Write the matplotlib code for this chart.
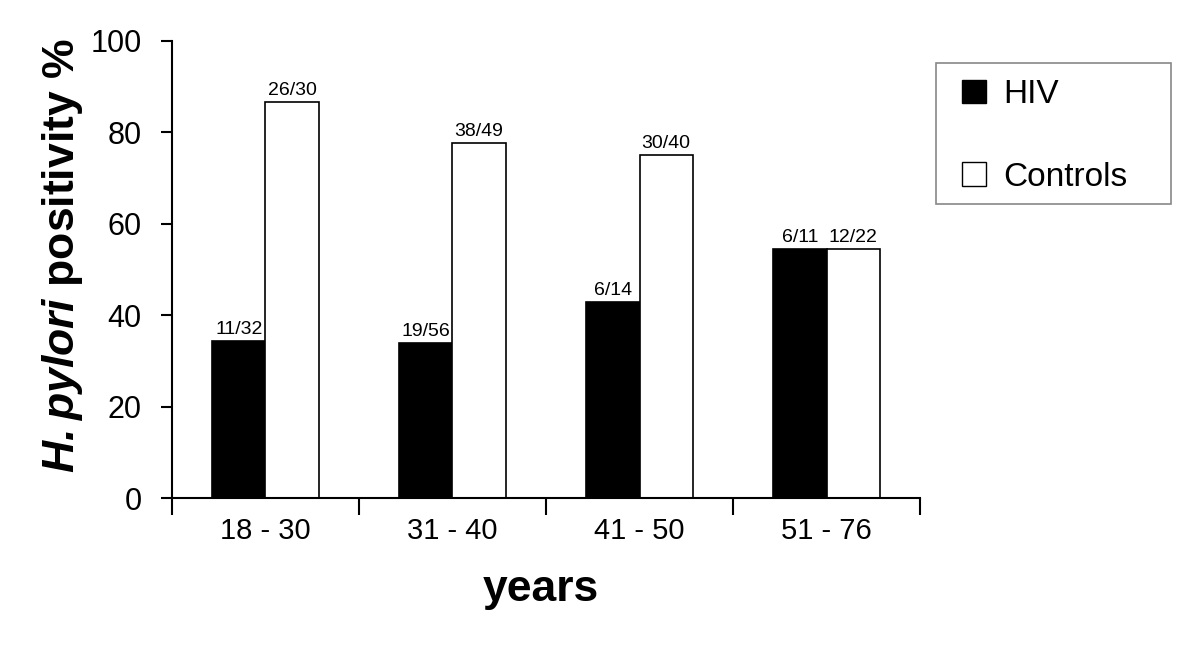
import matplotlib.pyplot as plt
from matplotlib.patches import Patch, Rectangle
import numpy as np

plt.rcParams['font.family'] = ['Liberation Sans', 'DejaVu Sans']
plt.rcParams['mathtext.fontset'] = 'custom'
plt.rcParams['mathtext.bfit'] = 'Liberation Sans:bold:italic'

# 数据
groups = ['18 - 30', '31 - 40', '41 - 50', '51 - 76']
hiv = [34.4, 33.9, 42.9, 54.5]
controls = [86.7, 77.6, 75.0, 54.5]
hiv_labels = ['11/32', '19/56', '6/14', '6/11']
ctrl_labels = ['26/30', '38/49', '30/40', '12/22']

fig = plt.figure(figsize=(12, 6.51), dpi=100)
ax = fig.add_axes([0.1433, 0.235, 0.6234, 0.7025])

x = np.arange(len(groups))
w = 0.285
b1 = ax.bar(x - w / 2, hiv, w, color='black', edgecolor='black', linewidth=1.2)
b2 = ax.bar(x + w / 2, controls, w, color='white', edgecolor='black', linewidth=1.2)

for rect, s in zip(b1, hiv_labels):
    ax.text(rect.get_x() + rect.get_width() / 2, rect.get_height() + 0.6, s,
            ha='center', va='bottom', fontsize=14)
for rect, s in zip(b2, ctrl_labels):
    ax.text(rect.get_x() + rect.get_width() / 2, rect.get_height() + 0.6, s,
            ha='center', va='bottom', fontsize=14)

ax.set_xlim(-0.5, 3.5)
ax.set_ylim(0, 100)
ax.spines['top'].set_visible(False)
ax.spines['right'].set_visible(False)
ax.spines['left'].set_linewidth(1.5)
ax.spines['bottom'].set_linewidth(1.5)

ax.set_yticks([0, 20, 40, 60, 80, 100])
ax.tick_params(axis='y', direction='out', length=8, width=1.5, labelsize=22, pad=14)

# 组间刻度
ax.set_xticks(np.arange(-0.5, 4, 1))
ax.set_xticklabels([])
ax.tick_params(axis='x', which='major', direction='out', length=12, width=1.5)
ax.set_xticks(x, minor=True)
ax.set_xticklabels(groups, minor=True)
ax.tick_params(axis='x', which='minor', length=0, labelsize=21, pad=14)

ax.set_xlabel('years', fontsize=32, fontweight='bold', labelpad=18)
ax.xaxis.set_label_coords(0.493, -0.155)
ax.set_ylabel(r'$\bfit{H. pylori}$ positivity %', fontsize=32, fontweight='bold')
ax.yaxis.set_label_coords(-0.116, 0.531)

# 图例
handles = [Patch(facecolor='black', edgecolor='black', label='HIV'),
           Patch(facecolor='white', edgecolor='black', label='Controls')]
leg = fig.legend(handles=handles, loc='center left', bbox_to_anchor=(0.788, 0.791),
                 fontsize=24, frameon=False, handlelength=0.72, handleheight=0.72,
                 labelspacing=1.55, borderpad=0, handletextpad=0.5)
fig.patches.append(Rectangle((936 / 1200, 1 - 204 / 651), 235 / 1200, 141 / 651,
                             transform=fig.transFigure, facecolor='none',
                             edgecolor='#888888', linewidth=1.2))

plt.savefig('out.png', dpi=100)
